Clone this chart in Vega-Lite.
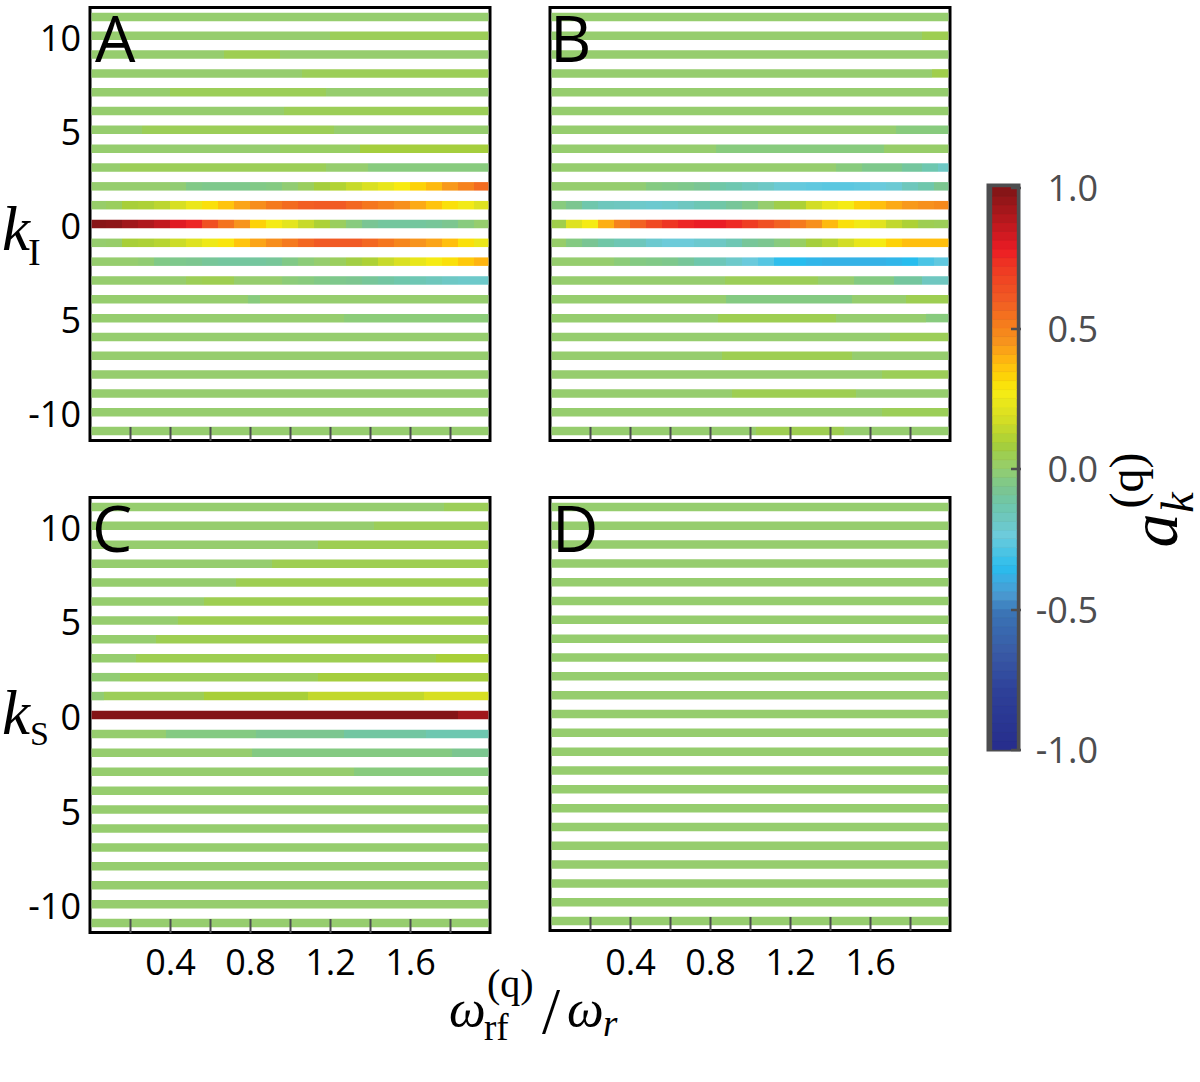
{
  "$schema": "https://vega.github.io/schema/vega-lite/v6.json",
  "padding": {"left": 0, "top": 5.5, "right": 0, "bottom": 0},
  "background": "white",
  "spacing": 31.5,
  "bounds": "full",
  "config": {
    "view": {"stroke": "#000000", "strokeWidth": 3},
    "axis": {"grid": false, "domain": false, "title": null, "labelFont": "Open Sans", "labelFontSize": 36, "labelColor": "#000000", "labelOverlap": false, "labelFlush": false, "labelBound": false},
    "text": {"font": "Liberation Serif", "color": "#000000"}
  },
  "datasets": {
    "a": [
      {"k":11,"x":0.008,"x2":1.992,"v":0},
      {"k":10,"x":0.008,"x2":1.2,"v":0},{"k":10,"x":1.2,"x2":1.992,"v":0.04},
      {"k":9,"x":0.008,"x2":0.67,"v":0},{"k":9,"x":0.67,"x2":0.95,"v":0.05},{"k":9,"x":0.95,"x2":1.992,"v":0},
      {"k":8,"x":0.008,"x2":1.06,"v":0},{"k":8,"x":1.06,"x2":1.992,"v":0.04},
      {"k":7,"x":0.008,"x2":0.4,"v":0},{"k":7,"x":0.4,"x2":1.18,"v":0.04},{"k":7,"x":1.18,"x2":1.992,"v":0},
      {"k":6,"x":0.008,"x2":0.97,"v":0},{"k":6,"x":0.97,"x2":1.992,"v":0.04},
      {"k":5,"x":0.008,"x2":0.26,"v":0},{"k":5,"x":0.26,"x2":1.22,"v":0.04},{"k":5,"x":1.22,"x2":1.992,"v":0},
      {"k":4,"x":0.008,"x2":0.95,"v":0},{"k":4,"x":0.95,"x2":1.35,"v":0.02},{"k":4,"x":1.35,"x2":1.992,"v":0.08},
      {"k":3,"x":0.008,"x2":0.15,"v":0},{"k":3,"x":0.15,"x2":1.18,"v":0.04},{"k":3,"x":1.18,"x2":1.39,"v":0},{"k":3,"x":1.39,"x2":1.992,"v":-0.03},
      {"k":2,"x":0.008,"x2":0.08,"v":0},{"k":2,"x":0.08,"x2":0.16,"v":0},{"k":2,"x":0.16,"x2":0.24,"v":0},{"k":2,"x":0.24,"x2":0.32,"v":0},{"k":2,"x":0.32,"x2":0.4,"v":0},{"k":2,"x":0.4,"x2":0.48,"v":-0.01},{"k":2,"x":0.48,"x2":0.56,"v":-0.05},{"k":2,"x":0.56,"x2":0.64,"v":-0.06},{"k":2,"x":0.64,"x2":0.72,"v":-0.06},{"k":2,"x":0.72,"x2":0.8,"v":-0.06},{"k":2,"x":0.8,"x2":0.88,"v":-0.05},{"k":2,"x":0.88,"x2":0.96,"v":-0.04},{"k":2,"x":0.96,"x2":1.04,"v":-0.01},{"k":2,"x":1.04,"x2":1.12,"v":0.03},{"k":2,"x":1.12,"x2":1.2,"v":0.08},{"k":2,"x":1.2,"x2":1.28,"v":0.11},{"k":2,"x":1.28,"x2":1.36,"v":0.15},{"k":2,"x":1.36,"x2":1.44,"v":0.19},{"k":2,"x":1.44,"x2":1.52,"v":0.23},{"k":2,"x":1.52,"x2":1.6,"v":0.28},{"k":2,"x":1.6,"x2":1.68,"v":0.33},{"k":2,"x":1.68,"x2":1.76,"v":0.38},{"k":2,"x":1.76,"x2":1.84,"v":0.44},{"k":2,"x":1.84,"x2":1.92,"v":0.5},{"k":2,"x":1.92,"x2":1.992,"v":0.56},
      {"k":1,"x":0.008,"x2":0.08,"v":0.01},{"k":1,"x":0.08,"x2":0.16,"v":0.03},{"k":1,"x":0.16,"x2":0.24,"v":0.09},{"k":1,"x":0.24,"x2":0.32,"v":0.1},{"k":1,"x":0.32,"x2":0.4,"v":0.13},{"k":1,"x":0.4,"x2":0.48,"v":0.18},{"k":1,"x":0.48,"x2":0.56,"v":0.24},{"k":1,"x":0.56,"x2":0.64,"v":0.3},{"k":1,"x":0.64,"x2":0.72,"v":0.36},{"k":1,"x":0.72,"x2":0.8,"v":0.42},{"k":1,"x":0.8,"x2":0.88,"v":0.47},{"k":1,"x":0.88,"x2":0.96,"v":0.52},{"k":1,"x":0.96,"x2":1.04,"v":0.56},{"k":1,"x":1.04,"x2":1.12,"v":0.59},{"k":1,"x":1.12,"x2":1.2,"v":0.6},{"k":1,"x":1.2,"x2":1.28,"v":0.6},{"k":1,"x":1.28,"x2":1.36,"v":0.57},{"k":1,"x":1.36,"x2":1.44,"v":0.53},{"k":1,"x":1.44,"x2":1.52,"v":0.5},{"k":1,"x":1.52,"x2":1.6,"v":0.46},{"k":1,"x":1.6,"x2":1.68,"v":0.41},{"k":1,"x":1.68,"x2":1.76,"v":0.36},{"k":1,"x":1.76,"x2":1.84,"v":0.3},{"k":1,"x":1.84,"x2":1.92,"v":0.26},{"k":1,"x":1.92,"x2":1.992,"v":0.2},
      {"k":0,"x":0.008,"x2":0.08,"v":0.98},{"k":0,"x":0.08,"x2":0.16,"v":0.97},{"k":0,"x":0.16,"x2":0.24,"v":0.93},{"k":0,"x":0.24,"x2":0.32,"v":0.9},{"k":0,"x":0.32,"x2":0.4,"v":0.86},{"k":0,"x":0.4,"x2":0.48,"v":0.8},{"k":0,"x":0.48,"x2":0.56,"v":0.76},{"k":0,"x":0.56,"x2":0.64,"v":0.64},{"k":0,"x":0.64,"x2":0.72,"v":0.54},{"k":0,"x":0.72,"x2":0.8,"v":0.45},{"k":0,"x":0.8,"x2":0.88,"v":0.33},{"k":0,"x":0.88,"x2":0.96,"v":0.27},{"k":0,"x":0.96,"x2":1.04,"v":0.22},{"k":0,"x":1.04,"x2":1.12,"v":0.15},{"k":0,"x":1.12,"x2":1.2,"v":0.1},{"k":0,"x":1.2,"x2":1.28,"v":0.03},{"k":0,"x":1.28,"x2":1.36,"v":-0.03},{"k":0,"x":1.36,"x2":1.44,"v":-0.08},{"k":0,"x":1.44,"x2":1.52,"v":-0.1},{"k":0,"x":1.52,"x2":1.6,"v":-0.1},{"k":0,"x":1.6,"x2":1.68,"v":-0.1},{"k":0,"x":1.68,"x2":1.76,"v":-0.09},{"k":0,"x":1.76,"x2":1.84,"v":-0.07},{"k":0,"x":1.84,"x2":1.92,"v":-0.03},{"k":0,"x":1.92,"x2":1.992,"v":0},
      {"k":-1,"x":0.008,"x2":0.08,"v":0},{"k":-1,"x":0.08,"x2":0.16,"v":0.01},{"k":-1,"x":0.16,"x2":0.24,"v":0.09},{"k":-1,"x":0.24,"x2":0.32,"v":0.1},{"k":-1,"x":0.32,"x2":0.4,"v":0.12},{"k":-1,"x":0.4,"x2":0.48,"v":0.16},{"k":-1,"x":0.48,"x2":0.56,"v":0.2},{"k":-1,"x":0.56,"x2":0.64,"v":0.25},{"k":-1,"x":0.64,"x2":0.72,"v":0.29},{"k":-1,"x":0.72,"x2":0.8,"v":0.36},{"k":-1,"x":0.8,"x2":0.88,"v":0.42},{"k":-1,"x":0.88,"x2":0.96,"v":0.47},{"k":-1,"x":0.96,"x2":1.04,"v":0.52},{"k":-1,"x":1.04,"x2":1.12,"v":0.57},{"k":-1,"x":1.12,"x2":1.2,"v":0.6},{"k":-1,"x":1.2,"x2":1.28,"v":0.6},{"k":-1,"x":1.28,"x2":1.36,"v":0.6},{"k":-1,"x":1.36,"x2":1.44,"v":0.57},{"k":-1,"x":1.44,"x2":1.52,"v":0.53},{"k":-1,"x":1.52,"x2":1.6,"v":0.49},{"k":-1,"x":1.6,"x2":1.68,"v":0.45},{"k":-1,"x":1.68,"x2":1.76,"v":0.42},{"k":-1,"x":1.76,"x2":1.84,"v":0.37},{"k":-1,"x":1.84,"x2":1.92,"v":0.3},{"k":-1,"x":1.92,"x2":1.992,"v":0.24},
      {"k":-2,"x":0.008,"x2":0.08,"v":0},{"k":-2,"x":0.08,"x2":0.16,"v":0},{"k":-2,"x":0.16,"x2":0.24,"v":0},{"k":-2,"x":0.24,"x2":0.32,"v":-0.01},{"k":-2,"x":0.32,"x2":0.4,"v":-0.05},{"k":-2,"x":0.4,"x2":0.48,"v":-0.06},{"k":-2,"x":0.48,"x2":0.56,"v":-0.07},{"k":-2,"x":0.56,"x2":0.64,"v":-0.09},{"k":-2,"x":0.64,"x2":0.72,"v":-0.1},{"k":-2,"x":0.72,"x2":0.8,"v":-0.1},{"k":-2,"x":0.8,"x2":0.88,"v":-0.1},{"k":-2,"x":0.88,"x2":0.96,"v":-0.09},{"k":-2,"x":0.96,"x2":1.04,"v":-0.05},{"k":-2,"x":1.04,"x2":1.12,"v":-0.02},{"k":-2,"x":1.12,"x2":1.2,"v":0},{"k":-2,"x":1.2,"x2":1.28,"v":0.03},{"k":-2,"x":1.28,"x2":1.36,"v":0.07},{"k":-2,"x":1.36,"x2":1.44,"v":0.1},{"k":-2,"x":1.44,"x2":1.52,"v":0.15},{"k":-2,"x":1.52,"x2":1.6,"v":0.19},{"k":-2,"x":1.6,"x2":1.68,"v":0.23},{"k":-2,"x":1.68,"x2":1.76,"v":0.27},{"k":-2,"x":1.76,"x2":1.84,"v":0.3},{"k":-2,"x":1.84,"x2":1.92,"v":0.35},{"k":-2,"x":1.92,"x2":1.992,"v":0.39},
      {"k":-3,"x":0.008,"x2":0.08,"v":0},{"k":-3,"x":0.08,"x2":0.16,"v":0},{"k":-3,"x":0.16,"x2":0.24,"v":0},{"k":-3,"x":0.24,"x2":0.32,"v":0},{"k":-3,"x":0.32,"x2":0.4,"v":0},{"k":-3,"x":0.4,"x2":0.48,"v":0},{"k":-3,"x":0.48,"x2":0.56,"v":0.04},{"k":-3,"x":0.56,"x2":0.64,"v":0.05},{"k":-3,"x":0.64,"x2":0.72,"v":0.05},{"k":-3,"x":0.72,"x2":0.8,"v":0},{"k":-3,"x":0.8,"x2":0.88,"v":0},{"k":-3,"x":0.88,"x2":0.96,"v":0},{"k":-3,"x":0.96,"x2":1.04,"v":-0.02},{"k":-3,"x":1.04,"x2":1.12,"v":-0.03},{"k":-3,"x":1.12,"x2":1.2,"v":-0.05},{"k":-3,"x":1.2,"x2":1.28,"v":-0.06},{"k":-3,"x":1.28,"x2":1.36,"v":-0.07},{"k":-3,"x":1.36,"x2":1.44,"v":-0.09},{"k":-3,"x":1.44,"x2":1.52,"v":-0.11},{"k":-3,"x":1.52,"x2":1.6,"v":-0.13},{"k":-3,"x":1.6,"x2":1.68,"v":-0.15},{"k":-3,"x":1.68,"x2":1.76,"v":-0.17},{"k":-3,"x":1.76,"x2":1.84,"v":-0.19},{"k":-3,"x":1.84,"x2":1.92,"v":-0.2},{"k":-3,"x":1.92,"x2":1.992,"v":-0.2},
      {"k":-4,"x":0.008,"x2":0.79,"v":0},{"k":-4,"x":0.79,"x2":0.85,"v":-0.03},{"k":-4,"x":0.85,"x2":1.992,"v":0},
      {"k":-5,"x":0.008,"x2":1.27,"v":0},{"k":-5,"x":1.27,"x2":1.992,"v":-0.02},
      {"k":-6,"x":0.008,"x2":1.992,"v":0},{"k":-7,"x":0.008,"x2":1.992,"v":0},{"k":-8,"x":0.008,"x2":1.992,"v":0},{"k":-9,"x":0.008,"x2":1.992,"v":0},{"k":-10,"x":0.008,"x2":1.992,"v":0},{"k":-11,"x":0.008,"x2":1.992,"v":0}
    ],
    "b": [
      {"k":11,"x":0.008,"x2":1.992,"v":0},
      {"k":10,"x":0.008,"x2":1.86,"v":0},{"k":10,"x":1.86,"x2":1.992,"v":0.05},
      {"k":9,"x":0.008,"x2":1.992,"v":0},
      {"k":8,"x":0.008,"x2":1.91,"v":0},{"k":8,"x":1.91,"x2":1.992,"v":0.06},
      {"k":7,"x":0.008,"x2":1.992,"v":0},
      {"k":6,"x":0.008,"x2":1.992,"v":0},
      {"k":5,"x":0.008,"x2":1.73,"v":0},{"k":5,"x":1.73,"x2":1.992,"v":-0.03},
      {"k":4,"x":0.008,"x2":0.83,"v":0},{"k":4,"x":0.83,"x2":1.67,"v":-0.03},{"k":4,"x":1.67,"x2":1.992,"v":0.01},
      {"k":3,"x":0.008,"x2":1.43,"v":0},{"k":3,"x":1.43,"x2":1.56,"v":-0.03},{"k":3,"x":1.56,"x2":1.76,"v":-0.06},{"k":3,"x":1.76,"x2":1.86,"v":-0.1},{"k":3,"x":1.86,"x2":1.94,"v":-0.14},{"k":3,"x":1.94,"x2":1.992,"v":-0.19},
      {"k":2,"x":0.008,"x2":0.08,"v":0},{"k":2,"x":0.08,"x2":0.16,"v":0},{"k":2,"x":0.16,"x2":0.24,"v":0},{"k":2,"x":0.24,"x2":0.32,"v":0},{"k":2,"x":0.32,"x2":0.4,"v":0},{"k":2,"x":0.4,"x2":0.48,"v":-0.01},{"k":2,"x":0.48,"x2":0.56,"v":-0.04},{"k":2,"x":0.56,"x2":0.64,"v":-0.05},{"k":2,"x":0.64,"x2":0.72,"v":-0.06},{"k":2,"x":0.72,"x2":0.8,"v":-0.08},{"k":2,"x":0.8,"x2":0.88,"v":-0.12},{"k":2,"x":0.88,"x2":0.96,"v":-0.14},{"k":2,"x":0.96,"x2":1.04,"v":-0.17},{"k":2,"x":1.04,"x2":1.12,"v":-0.19},{"k":2,"x":1.12,"x2":1.2,"v":-0.22},{"k":2,"x":1.2,"x2":1.28,"v":-0.25},{"k":2,"x":1.28,"x2":1.36,"v":-0.26},{"k":2,"x":1.36,"x2":1.44,"v":-0.27},{"k":2,"x":1.44,"x2":1.52,"v":-0.27},{"k":2,"x":1.52,"x2":1.6,"v":-0.26},{"k":2,"x":1.6,"x2":1.68,"v":-0.24},{"k":2,"x":1.68,"x2":1.76,"v":-0.22},{"k":2,"x":1.76,"x2":1.84,"v":-0.17},{"k":2,"x":1.84,"x2":1.92,"v":-0.13},{"k":2,"x":1.92,"x2":1.992,"v":-0.07},
      {"k":1,"x":0.008,"x2":0.08,"v":-0.03},{"k":1,"x":0.08,"x2":0.16,"v":-0.07},{"k":1,"x":0.16,"x2":0.24,"v":-0.13},{"k":1,"x":0.24,"x2":0.32,"v":-0.17},{"k":1,"x":0.32,"x2":0.4,"v":-0.18},{"k":1,"x":0.4,"x2":0.48,"v":-0.2},{"k":1,"x":0.48,"x2":0.56,"v":-0.21},{"k":1,"x":0.56,"x2":0.64,"v":-0.2},{"k":1,"x":0.64,"x2":0.72,"v":-0.18},{"k":1,"x":0.72,"x2":0.8,"v":-0.15},{"k":1,"x":0.8,"x2":0.88,"v":-0.12},{"k":1,"x":0.88,"x2":0.96,"v":-0.09},{"k":1,"x":0.96,"x2":1.04,"v":-0.05},{"k":1,"x":1.04,"x2":1.12,"v":0},{"k":1,"x":1.12,"x2":1.2,"v":0.06},{"k":1,"x":1.2,"x2":1.28,"v":0.1},{"k":1,"x":1.28,"x2":1.36,"v":0.17},{"k":1,"x":1.36,"x2":1.44,"v":0.23},{"k":1,"x":1.44,"x2":1.52,"v":0.27},{"k":1,"x":1.52,"x2":1.6,"v":0.33},{"k":1,"x":1.6,"x2":1.68,"v":0.37},{"k":1,"x":1.68,"x2":1.76,"v":0.41},{"k":1,"x":1.76,"x2":1.84,"v":0.44},{"k":1,"x":1.84,"x2":1.92,"v":0.46},{"k":1,"x":1.92,"x2":1.992,"v":0.48},
      {"k":0,"x":0.008,"x2":0.08,"v":0.06},{"k":0,"x":0.08,"x2":0.16,"v":0.2},{"k":0,"x":0.16,"x2":0.24,"v":0.27},{"k":0,"x":0.24,"x2":0.32,"v":0.4},{"k":0,"x":0.32,"x2":0.4,"v":0.5},{"k":0,"x":0.4,"x2":0.48,"v":0.58},{"k":0,"x":0.48,"x2":0.56,"v":0.66},{"k":0,"x":0.56,"x2":0.64,"v":0.72},{"k":0,"x":0.64,"x2":0.72,"v":0.76},{"k":0,"x":0.72,"x2":0.8,"v":0.78},{"k":0,"x":0.8,"x2":0.88,"v":0.78},{"k":0,"x":0.88,"x2":0.96,"v":0.75},{"k":0,"x":0.96,"x2":1.04,"v":0.7},{"k":0,"x":1.04,"x2":1.12,"v":0.64},{"k":0,"x":1.12,"x2":1.2,"v":0.58},{"k":0,"x":1.2,"x2":1.28,"v":0.52},{"k":0,"x":1.28,"x2":1.36,"v":0.46},{"k":0,"x":1.36,"x2":1.44,"v":0.38},{"k":0,"x":1.44,"x2":1.52,"v":0.3},{"k":0,"x":1.52,"x2":1.6,"v":0.26},{"k":0,"x":1.6,"x2":1.68,"v":0.21},{"k":0,"x":1.68,"x2":1.76,"v":0.14},{"k":0,"x":1.76,"x2":1.84,"v":0.1},{"k":0,"x":1.84,"x2":1.92,"v":0.05},{"k":0,"x":1.92,"x2":1.992,"v":0.04},
      {"k":-1,"x":0.008,"x2":0.08,"v":0.01},{"k":-1,"x":0.08,"x2":0.16,"v":-0.04},{"k":-1,"x":0.16,"x2":0.24,"v":-0.08},{"k":-1,"x":0.24,"x2":0.32,"v":-0.12},{"k":-1,"x":0.32,"x2":0.4,"v":-0.15},{"k":-1,"x":0.4,"x2":0.48,"v":-0.17},{"k":-1,"x":0.48,"x2":0.56,"v":-0.21},{"k":-1,"x":0.56,"x2":0.64,"v":-0.23},{"k":-1,"x":0.64,"x2":0.72,"v":-0.23},{"k":-1,"x":0.72,"x2":0.8,"v":-0.21},{"k":-1,"x":0.8,"x2":0.88,"v":-0.19},{"k":-1,"x":0.88,"x2":0.96,"v":-0.15},{"k":-1,"x":0.96,"x2":1.04,"v":-0.09},{"k":-1,"x":1.04,"x2":1.12,"v":-0.07},{"k":-1,"x":1.12,"x2":1.2,"v":-0.03},{"k":-1,"x":1.2,"x2":1.28,"v":0.02},{"k":-1,"x":1.28,"x2":1.36,"v":0.08},{"k":-1,"x":1.36,"x2":1.44,"v":0.12},{"k":-1,"x":1.44,"x2":1.52,"v":0.17},{"k":-1,"x":1.52,"x2":1.6,"v":0.23},{"k":-1,"x":1.6,"x2":1.68,"v":0.27},{"k":-1,"x":1.68,"x2":1.76,"v":0.33},{"k":-1,"x":1.76,"x2":1.84,"v":0.37},{"k":-1,"x":1.84,"x2":1.92,"v":0.37},{"k":-1,"x":1.92,"x2":1.992,"v":0.37},
      {"k":-2,"x":0.008,"x2":0.08,"v":0},{"k":-2,"x":0.08,"x2":0.16,"v":0},{"k":-2,"x":0.16,"x2":0.24,"v":0},{"k":-2,"x":0.24,"x2":0.32,"v":0},{"k":-2,"x":0.32,"x2":0.4,"v":-0.02},{"k":-2,"x":0.4,"x2":0.48,"v":-0.04},{"k":-2,"x":0.48,"x2":0.56,"v":-0.05},{"k":-2,"x":0.56,"x2":0.64,"v":-0.06},{"k":-2,"x":0.64,"x2":0.72,"v":-0.09},{"k":-2,"x":0.72,"x2":0.8,"v":-0.13},{"k":-2,"x":0.8,"x2":0.88,"v":-0.16},{"k":-2,"x":0.88,"x2":0.96,"v":-0.2},{"k":-2,"x":0.96,"x2":1.04,"v":-0.24},{"k":-2,"x":1.04,"x2":1.12,"v":-0.28},{"k":-2,"x":1.12,"x2":1.2,"v":-0.34},{"k":-2,"x":1.2,"x2":1.28,"v":-0.35},{"k":-2,"x":1.28,"x2":1.36,"v":-0.37},{"k":-2,"x":1.36,"x2":1.44,"v":-0.38},{"k":-2,"x":1.44,"x2":1.52,"v":-0.38},{"k":-2,"x":1.52,"x2":1.6,"v":-0.38},{"k":-2,"x":1.6,"x2":1.68,"v":-0.38},{"k":-2,"x":1.68,"x2":1.76,"v":-0.37},{"k":-2,"x":1.76,"x2":1.84,"v":-0.35},{"k":-2,"x":1.84,"x2":1.92,"v":-0.3},{"k":-2,"x":1.92,"x2":1.992,"v":-0.26},
      {"k":-3,"x":0.008,"x2":0.875,"v":0},{"k":-3,"x":0.875,"x2":1.34,"v":0.04},{"k":-3,"x":1.34,"x2":1.52,"v":0},{"k":-3,"x":1.52,"x2":1.72,"v":-0.04},{"k":-3,"x":1.72,"x2":1.86,"v":-0.1},{"k":-3,"x":1.86,"x2":1.992,"v":-0.18},
      {"k":-4,"x":0.008,"x2":0.88,"v":0},{"k":-4,"x":0.88,"x2":1.51,"v":-0.04},{"k":-4,"x":1.51,"x2":1.78,"v":0},{"k":-4,"x":1.78,"x2":1.992,"v":0.05},
      {"k":-5,"x":0.008,"x2":0.84,"v":0},{"k":-5,"x":0.84,"x2":1.43,"v":0.05},{"k":-5,"x":1.43,"x2":1.88,"v":0},{"k":-5,"x":1.88,"x2":1.992,"v":-0.03},
      {"k":-6,"x":0.008,"x2":1.7,"v":0},{"k":-6,"x":1.7,"x2":1.992,"v":0.04},
      {"k":-7,"x":0.008,"x2":0.86,"v":0},{"k":-7,"x":0.86,"x2":1.51,"v":0.05},{"k":-7,"x":1.51,"x2":1.992,"v":0},
      {"k":-8,"x":0.008,"x2":1.66,"v":0},{"k":-8,"x":1.66,"x2":1.992,"v":0.04},
      {"k":-9,"x":0.008,"x2":0.91,"v":0},{"k":-9,"x":0.91,"x2":1.53,"v":0.05},{"k":-9,"x":1.53,"x2":1.992,"v":0},
      {"k":-10,"x":0.008,"x2":1.66,"v":0},{"k":-10,"x":1.66,"x2":1.992,"v":0.04},
      {"k":-11,"x":0.008,"x2":1.03,"v":0},{"k":-11,"x":1.03,"x2":1.47,"v":0.05},{"k":-11,"x":1.47,"x2":1.992,"v":0}
    ],
    "c": [
      {"k":11,"x":0.008,"x2":1.77,"v":0},{"k":11,"x":1.77,"x2":1.992,"v":0.04},
      {"k":10,"x":0.008,"x2":1.42,"v":0},{"k":10,"x":1.42,"x2":1.992,"v":0.04},
      {"k":9,"x":0.008,"x2":1.14,"v":0},{"k":9,"x":1.14,"x2":1.992,"v":0.05},
      {"k":8,"x":0.008,"x2":0.91,"v":0},{"k":8,"x":0.91,"x2":1.992,"v":0.05},
      {"k":7,"x":0.008,"x2":0.73,"v":0},{"k":7,"x":0.73,"x2":1.992,"v":0.05},
      {"k":6,"x":0.008,"x2":0.57,"v":0},{"k":6,"x":0.57,"x2":1.992,"v":0.05},
      {"k":5,"x":0.008,"x2":0.44,"v":0},{"k":5,"x":0.44,"x2":1.992,"v":0.05},
      {"k":4,"x":0.008,"x2":0.33,"v":0},{"k":4,"x":0.33,"x2":1.992,"v":0.05},
      {"k":3,"x":0.008,"x2":0.23,"v":0},{"k":3,"x":0.23,"x2":1.73,"v":0.05},{"k":3,"x":1.73,"x2":1.992,"v":0.09},
      {"k":2,"x":0.008,"x2":0.15,"v":-0.01},{"k":2,"x":0.15,"x2":1.14,"v":0.04},{"k":2,"x":1.14,"x2":1.992,"v":0.08},
      {"k":1,"x":0.008,"x2":0.07,"v":-0.01},{"k":1,"x":0.07,"x2":0.57,"v":0.04},{"k":1,"x":0.57,"x2":1.09,"v":0.09},{"k":1,"x":1.09,"x2":1.67,"v":0.14},{"k":1,"x":1.67,"x2":1.992,"v":0.18},
      {"k":0,"x":0.008,"x2":1.84,"v":0.99},{"k":0,"x":1.84,"x2":1.992,"v":0.93},
      {"k":-1,"x":0.008,"x2":0.38,"v":0},{"k":-1,"x":0.38,"x2":0.83,"v":-0.04},{"k":-1,"x":0.83,"x2":1.27,"v":-0.07},{"k":-1,"x":1.27,"x2":1.68,"v":-0.11},{"k":-1,"x":1.68,"x2":1.992,"v":-0.14},
      {"k":-2,"x":0.008,"x2":0.81,"v":0},{"k":-2,"x":0.81,"x2":1.81,"v":-0.04},{"k":-2,"x":1.81,"x2":1.992,"v":-0.07},
      {"k":-3,"x":0.008,"x2":1.32,"v":0},{"k":-3,"x":1.32,"x2":1.992,"v":-0.03},
      {"k":-4,"x":0.008,"x2":1.992,"v":0},{"k":-5,"x":0.008,"x2":1.992,"v":0},{"k":-6,"x":0.008,"x2":1.992,"v":0},{"k":-7,"x":0.008,"x2":1.992,"v":0},{"k":-8,"x":0.008,"x2":1.992,"v":0},{"k":-9,"x":0.008,"x2":1.992,"v":0},{"k":-10,"x":0.008,"x2":1.992,"v":0},{"k":-11,"x":0.008,"x2":1.992,"v":0}
    ],
    "d": [
      {"k":11,"x":0.008,"x2":1.992,"v":0},{"k":10,"x":0.008,"x2":1.992,"v":0},{"k":9,"x":0.008,"x2":1.992,"v":0},{"k":8,"x":0.008,"x2":1.992,"v":0},{"k":7,"x":0.008,"x2":1.992,"v":0},{"k":6,"x":0.008,"x2":1.992,"v":0},{"k":5,"x":0.008,"x2":1.992,"v":0},{"k":4,"x":0.008,"x2":1.992,"v":0},{"k":3,"x":0.008,"x2":1.992,"v":0},{"k":2,"x":0.008,"x2":1.992,"v":0},{"k":1,"x":0.008,"x2":1.992,"v":0},{"k":0,"x":0.008,"x2":1.992,"v":0},{"k":-1,"x":0.008,"x2":1.992,"v":0},{"k":-2,"x":0.008,"x2":1.992,"v":0},{"k":-3,"x":0.008,"x2":1.992,"v":0},{"k":-4,"x":0.008,"x2":1.992,"v":0},{"k":-5,"x":0.008,"x2":1.992,"v":0},{"k":-6,"x":0.008,"x2":1.992,"v":0},{"k":-7,"x":0.008,"x2":1.992,"v":0},{"k":-8,"x":0.008,"x2":1.992,"v":0},{"k":-9,"x":0.008,"x2":1.992,"v":0},{"k":-10,"x":0.008,"x2":1.992,"v":0},{"k":-11,"x":0.008,"x2":1.992,"v":0}
    ],
    "bar": [
      {"lo":-1,"hi":-0.969,"v":-0.984},{"lo":-0.969,"hi":-0.938,"v":-0.953},{"lo":-0.938,"hi":-0.906,"v":-0.922},{"lo":-0.906,"hi":-0.875,"v":-0.891},{"lo":-0.875,"hi":-0.844,"v":-0.859},{"lo":-0.844,"hi":-0.813,"v":-0.828},{"lo":-0.813,"hi":-0.781,"v":-0.797},{"lo":-0.781,"hi":-0.75,"v":-0.766},{"lo":-0.75,"hi":-0.719,"v":-0.734},{"lo":-0.719,"hi":-0.688,"v":-0.703},{"lo":-0.688,"hi":-0.656,"v":-0.672},{"lo":-0.656,"hi":-0.625,"v":-0.641},{"lo":-0.625,"hi":-0.594,"v":-0.609},{"lo":-0.594,"hi":-0.563,"v":-0.578},{"lo":-0.563,"hi":-0.531,"v":-0.547},{"lo":-0.531,"hi":-0.5,"v":-0.516},
      {"lo":-0.5,"hi":-0.469,"v":-0.484},{"lo":-0.469,"hi":-0.438,"v":-0.453},{"lo":-0.438,"hi":-0.406,"v":-0.422},{"lo":-0.406,"hi":-0.375,"v":-0.391},{"lo":-0.375,"hi":-0.344,"v":-0.359},{"lo":-0.344,"hi":-0.313,"v":-0.328},{"lo":-0.313,"hi":-0.281,"v":-0.297},{"lo":-0.281,"hi":-0.25,"v":-0.266},{"lo":-0.25,"hi":-0.219,"v":-0.234},{"lo":-0.219,"hi":-0.188,"v":-0.203},{"lo":-0.188,"hi":-0.156,"v":-0.172},{"lo":-0.156,"hi":-0.125,"v":-0.141},{"lo":-0.125,"hi":-0.094,"v":-0.109},{"lo":-0.094,"hi":-0.063,"v":-0.078},{"lo":-0.063,"hi":-0.031,"v":-0.047},{"lo":-0.031,"hi":0,"v":-0.016},
      {"lo":0,"hi":0.031,"v":0.016},{"lo":0.031,"hi":0.063,"v":0.047},{"lo":0.063,"hi":0.094,"v":0.078},{"lo":0.094,"hi":0.125,"v":0.109},{"lo":0.125,"hi":0.156,"v":0.141},{"lo":0.156,"hi":0.188,"v":0.172},{"lo":0.188,"hi":0.219,"v":0.203},{"lo":0.219,"hi":0.25,"v":0.234},{"lo":0.25,"hi":0.281,"v":0.266},{"lo":0.281,"hi":0.313,"v":0.297},{"lo":0.313,"hi":0.344,"v":0.328},{"lo":0.344,"hi":0.375,"v":0.359},{"lo":0.375,"hi":0.406,"v":0.391},{"lo":0.406,"hi":0.438,"v":0.422},{"lo":0.438,"hi":0.469,"v":0.453},{"lo":0.469,"hi":0.5,"v":0.484},
      {"lo":0.5,"hi":0.531,"v":0.516},{"lo":0.531,"hi":0.563,"v":0.547},{"lo":0.563,"hi":0.594,"v":0.578},{"lo":0.594,"hi":0.625,"v":0.609},{"lo":0.625,"hi":0.656,"v":0.641},{"lo":0.656,"hi":0.688,"v":0.672},{"lo":0.688,"hi":0.719,"v":0.703},{"lo":0.719,"hi":0.75,"v":0.734},{"lo":0.75,"hi":0.781,"v":0.766},{"lo":0.781,"hi":0.813,"v":0.797},{"lo":0.813,"hi":0.844,"v":0.828},{"lo":0.844,"hi":0.875,"v":0.859},{"lo":0.875,"hi":0.906,"v":0.891},{"lo":0.906,"hi":0.938,"v":0.922},{"lo":0.938,"hi":0.969,"v":0.953},{"lo":0.969,"hi":1,"v":0.984}
    ]
  },
  "hconcat": [
    {
      "columns": 2,
      "bounds": "flush",
      "spacing": {"row": 57, "column": 60},
      "concat": [
        {
          "width": 400, "height": 433,
          "layer": [
            {
              "data": {"name": "a"},
              "mark": {"type": "rule", "strokeWidth": 8.5, "strokeCap": "butt"},
              "encoding": {
                "x": {"field": "x", "type": "quantitative", "scale": {"domain": [0, 2], "nice": false, "zero": false},
                  "axis": {"zindex": 1, "values": [0.2,0.4,0.6,0.8,1,1.2,1.4,1.6,1.8], "tickSize": -14, "tickWidth": 2, "tickColor": "#4d4d4f", "labels": false}},
                "x2": {"field": "x2"},
                "y": {"field": "k", "type": "quantitative", "scale": {"domain": [-11.5, 11.5], "nice": false, "zero": false},
                  "axis": {"values": [10,5,0,-5,-10], "ticks": false, "labelPadding": 9.5, "labelOffset": 3.5, "labelExpr": "datum.value == -5 ? '5' : datum.value == -10 ? '-10' : datum.label"}},
                "color": {"field": "v", "type": "quantitative", "legend": null,
                  "scale": {"domain": [-1,-0.8,-0.65,-0.51,-0.45,-0.35,-0.235,-0.18,-0.08,0,0.085,0.18,0.275,0.365,0.45,0.6,0.775,1],
                    "range": ["#262d8c","#2e3f98","#3a5ba6","#3b75b6","#4a99d0","#27bdee","#6dcbdb","#6fc7c0","#7ac594","#96cd6e","#a6ce39","#d7df23","#f7ec13","#ffc20e","#f7941d","#f15a24","#ed1c24","#7f1416"]}}
              }
            },
            {"data": {"values": [{"t": "A"}]}, "mark": {"type": "text", "font": "Open Sans", "fontSize": 64, "align": "left", "baseline": "alphabetic"},
              "encoding": {"text": {"field": "t"}, "x": {"datum": 0.025, "type": "quantitative"}, "y": {"datum": 8.6, "type": "quantitative"}}},
            {"data": {"values": [{"t": "k"}]}, "mark": {"type": "text", "fontSize": 63, "fontStyle": "italic", "align": "left", "baseline": "alphabetic"},
              "encoding": {"text": {"field": "t"}, "x": {"datum": -0.44, "type": "quantitative"}, "y": {"datum": -1.39, "type": "quantitative"}}},
            {"data": {"values": [{"t": "I"}]}, "mark": {"type": "text", "fontSize": 38, "align": "left", "baseline": "alphabetic"},
              "encoding": {"text": {"field": "t"}, "x": {"datum": -0.31, "type": "quantitative"}, "y": {"datum": -2.19, "type": "quantitative"}}}
          ]
        },
        {
          "width": 400, "height": 433,
          "layer": [
            {
              "data": {"name": "b"},
              "mark": {"type": "rule", "strokeWidth": 8.5, "strokeCap": "butt"},
              "encoding": {
                "x": {"field": "x", "type": "quantitative", "scale": {"domain": [0, 2], "nice": false, "zero": false},
                  "axis": {"zindex": 1, "values": [0.2,0.4,0.6,0.8,1,1.2,1.4,1.6,1.8], "tickSize": -14, "tickWidth": 2, "tickColor": "#4d4d4f", "labels": false}},
                "x2": {"field": "x2"},
                "y": {"field": "k", "type": "quantitative", "scale": {"domain": [-11.5, 11.5], "nice": false, "zero": false}, "axis": null},
                "color": {"field": "v", "type": "quantitative", "legend": null,
                  "scale": {"domain": [-1,-0.8,-0.65,-0.51,-0.45,-0.35,-0.235,-0.18,-0.08,0,0.085,0.18,0.275,0.365,0.45,0.6,0.775,1],
                    "range": ["#262d8c","#2e3f98","#3a5ba6","#3b75b6","#4a99d0","#27bdee","#6dcbdb","#6fc7c0","#7ac594","#96cd6e","#a6ce39","#d7df23","#f7ec13","#ffc20e","#f7941d","#f15a24","#ed1c24","#7f1416"]}}
              }
            },
            {"data": {"values": [{"t": "B"}]}, "mark": {"type": "text", "font": "Open Sans", "fontSize": 64, "align": "left", "baseline": "alphabetic"},
              "encoding": {"text": {"field": "t"}, "x": {"datum": 0, "type": "quantitative"}, "y": {"datum": 8.6, "type": "quantitative"}}}
          ]
        },
        {
          "width": 400, "height": 435,
          "layer": [
            {
              "data": {"name": "c"},
              "mark": {"type": "rule", "strokeWidth": 8.5, "strokeCap": "butt"},
              "encoding": {
                "x": {"field": "x", "type": "quantitative", "scale": {"domain": [0, 2], "nice": false, "zero": false},
                  "axis": {"zindex": 1, "values": [0.2,0.4,0.6,0.8,1,1.2,1.4,1.6,1.8], "tickSize": -14, "tickWidth": 2, "tickColor": "#4d4d4f", "labelPadding": 28, "format": ".1f", "labelExpr": "indexof(['0.4','0.8','1.2','1.6'], datum.label) >= 0 ? datum.label : ''"}},
                "x2": {"field": "x2"},
                "y": {"field": "k", "type": "quantitative", "scale": {"domain": [-11.5, 11.5], "nice": false, "zero": false},
                  "axis": {"values": [10,5,0,-5,-10], "ticks": false, "labelPadding": 9.5, "labelOffset": 3.5, "labelExpr": "datum.value == -5 ? '5' : datum.value == -10 ? '-10' : datum.label"}},
                "color": {"field": "v", "type": "quantitative", "legend": null,
                  "scale": {"domain": [-1,-0.8,-0.65,-0.51,-0.45,-0.35,-0.235,-0.18,-0.08,0,0.085,0.18,0.275,0.365,0.45,0.6,0.775,1],
                    "range": ["#262d8c","#2e3f98","#3a5ba6","#3b75b6","#4a99d0","#27bdee","#6dcbdb","#6fc7c0","#7ac594","#96cd6e","#a6ce39","#d7df23","#f7ec13","#ffc20e","#f7941d","#f15a24","#ed1c24","#7f1416"]}}
              }
            },
            {"data": {"values": [{"t": "C"}]}, "mark": {"type": "text", "font": "Open Sans", "fontSize": 64, "align": "left", "baseline": "alphabetic"},
              "encoding": {"text": {"field": "t"}, "x": {"datum": 0.01, "type": "quantitative"}, "y": {"datum": 8.6, "type": "quantitative"}}},
            {"data": {"values": [{"t": "k"}]}, "mark": {"type": "text", "fontSize": 63, "fontStyle": "italic", "align": "left", "baseline": "alphabetic"},
              "encoding": {"text": {"field": "t"}, "x": {"datum": -0.44, "type": "quantitative"}, "y": {"datum": -1.03, "type": "quantitative"}}},
            {"data": {"values": [{"t": "S"}]}, "mark": {"type": "text", "fontSize": 34, "align": "left", "baseline": "alphabetic"},
              "encoding": {"text": {"field": "t"}, "x": {"datum": -0.3, "type": "quantitative"}, "y": {"datum": -1.56, "type": "quantitative"}}},
            {"data": {"values": [{"t": "ω"}]}, "mark": {"type": "text", "fontSize": 52, "fontStyle": "italic", "align": "left", "baseline": "alphabetic"},
              "encoding": {"text": {"field": "t"}, "x": {"datum": 1.795, "type": "quantitative"}, "y": {"datum": -16.42, "type": "quantitative"}}},
            {"data": {"values": [{"t": "rf"}]}, "mark": {"type": "text", "fontSize": 37, "align": "left", "baseline": "alphabetic"},
              "encoding": {"text": {"field": "t"}, "x": {"datum": 1.97, "type": "quantitative"}, "y": {"datum": -17.21, "type": "quantitative"}}},
            {"data": {"values": [{"t": "(q)"}]}, "mark": {"type": "text", "fontSize": 40, "align": "left", "baseline": "alphabetic"},
              "encoding": {"text": {"field": "t"}, "x": {"datum": 1.985, "type": "quantitative"}, "y": {"datum": -14.89, "type": "quantitative"}}},
            {"data": {"values": [{"t": "/"}]}, "mark": {"type": "text", "fontSize": 65, "align": "left", "baseline": "alphabetic"},
              "encoding": {"text": {"field": "t"}, "x": {"datum": 2.26, "type": "quantitative"}, "y": {"datum": -16.84, "type": "quantitative"}}},
            {"data": {"values": [{"t": "ω"}]}, "mark": {"type": "text", "fontSize": 52, "fontStyle": "italic", "align": "left", "baseline": "alphabetic"},
              "encoding": {"text": {"field": "t"}, "x": {"datum": 2.385, "type": "quantitative"}, "y": {"datum": -16.42, "type": "quantitative"}}},
            {"data": {"values": [{"t": "r"}]}, "mark": {"type": "text", "fontSize": 37, "fontStyle": "italic", "align": "left", "baseline": "alphabetic"},
              "encoding": {"text": {"field": "t"}, "x": {"datum": 2.565, "type": "quantitative"}, "y": {"datum": -16.95, "type": "quantitative"}}}
          ]
        },
        {
          "width": 400, "height": 433,
          "layer": [
            {
              "data": {"name": "d"},
              "mark": {"type": "rule", "strokeWidth": 8.5, "strokeCap": "butt"},
              "encoding": {
                "x": {"field": "x", "type": "quantitative", "scale": {"domain": [0, 2], "nice": false, "zero": false},
                  "axis": {"zindex": 1, "values": [0.2,0.4,0.6,0.8,1,1.2,1.4,1.6,1.8], "tickSize": -14, "tickWidth": 2, "tickColor": "#4d4d4f", "labelPadding": 30, "format": ".1f", "labelExpr": "indexof(['0.4','0.8','1.2','1.6'], datum.label) >= 0 ? datum.label : ''"}},
                "x2": {"field": "x2"},
                "y": {"field": "k", "type": "quantitative", "scale": {"domain": [-11.5, 11.5], "nice": false, "zero": false}, "axis": null},
                "color": {"field": "v", "type": "quantitative", "legend": null,
                  "scale": {"domain": [-1,-0.8,-0.65,-0.51,-0.45,-0.35,-0.235,-0.18,-0.08,0,0.085,0.18,0.275,0.365,0.45,0.6,0.775,1],
                    "range": ["#262d8c","#2e3f98","#3a5ba6","#3b75b6","#4a99d0","#27bdee","#6dcbdb","#6fc7c0","#7ac594","#96cd6e","#a6ce39","#d7df23","#f7ec13","#ffc20e","#f7941d","#f15a24","#ed1c24","#7f1416"]}}
              }
            },
            {"data": {"values": [{"t": "D"}]}, "mark": {"type": "text", "font": "Open Sans", "fontSize": 64, "align": "left", "baseline": "alphabetic"},
              "encoding": {"text": {"field": "t"}, "x": {"datum": 0.01, "type": "quantitative"}, "y": {"datum": 8.6, "type": "quantitative"}}}
          ]
        }
      ]
    },
    {
      "width": 34, "height": 744,
      "view": {"stroke": null},
      "layer": [
        {
          "data": {"values": [{"part": "frame"}]},
          "mark": {"type": "rect", "color": "#4d4d4f"},
          "encoding": {
            "x": {"datum": 0, "type": "quantitative", "scale": {"domain": [0, 34], "nice": false, "zero": false}, "axis": null},
            "x2": {"datum": 34},
            "y": {"datum": -1.007, "type": "quantitative", "scale": {"domain": [-1.007, 1.6406], "nice": false, "zero": false},
              "axis": {"zindex": 1, "orient": "right", "values": [1,0.5,0,-0.5,-1], "format": ".1f", "tickSize": -10, "tickWidth": 2.5, "tickColor": "#4d4d4f", "labelColor": "#4d4d4f", "labelPadding": 87, "labelAlign": "right", "labelOffset": 2, "labelExpr": "datum.value == -0.5 ? '-0.5' : datum.value == -1 ? '-1.0' : datum.label"}},
            "y2": {"datum": 1.014}
          }
        },
        {
          "data": {"name": "bar"},
          "mark": {"type": "rect", "strokeWidth": 0.6},
          "encoding": {
            "x": {"datum": 6, "type": "quantitative"},
            "x2": {"datum": 30},
            "y": {"field": "lo", "type": "quantitative"},
            "y2": {"field": "hi"},
            "color": {"field": "v", "type": "quantitative", "legend": null,
              "scale": {"domain": [-1,-0.8,-0.65,-0.51,-0.45,-0.35,-0.235,-0.18,-0.08,0,0.085,0.18,0.275,0.365,0.45,0.6,0.775,1],
                "range": ["#262d8c","#2e3f98","#3a5ba6","#3b75b6","#4a99d0","#27bdee","#6dcbdb","#6fc7c0","#7ac594","#96cd6e","#a6ce39","#d7df23","#f7ec13","#ffc20e","#f7941d","#f15a24","#ed1c24","#7f1416"]}},
            "stroke": {"field": "v", "type": "quantitative", "legend": null,
              "scale": {"domain": [-1,-0.8,-0.65,-0.51,-0.45,-0.35,-0.235,-0.18,-0.08,0,0.085,0.18,0.275,0.365,0.45,0.6,0.775,1],
                "range": ["#262d8c","#2e3f98","#3a5ba6","#3b75b6","#4a99d0","#27bdee","#6dcbdb","#6fc7c0","#7ac594","#96cd6e","#a6ce39","#d7df23","#f7ec13","#ffc20e","#f7941d","#f15a24","#ed1c24","#7f1416"]}}
          }
        },
        {"data": {"values": [{"t": "a"}]}, "mark": {"type": "text", "fontSize": 68, "fontStyle": "italic", "angle": 270, "align": "left", "baseline": "alphabetic"},
          "encoding": {"text": {"field": "t"}, "x": {"datum": 190, "type": "quantitative"}, "y": {"datum": -0.281, "type": "quantitative"}}},
        {"data": {"values": [{"t": "k"}]}, "mark": {"type": "text", "fontSize": 46, "fontStyle": "italic", "angle": 270, "align": "left", "baseline": "alphabetic"},
          "encoding": {"text": {"field": "t"}, "x": {"datum": 206, "type": "quantitative"}, "y": {"datum": -0.157, "type": "quantitative"}}},
        {"data": {"values": [{"t": "(q)"}]}, "mark": {"type": "text", "fontSize": 48, "angle": 270, "align": "left", "baseline": "alphabetic"},
          "encoding": {"text": {"field": "t"}, "x": {"datum": 156, "type": "quantitative"}, "y": {"datum": -0.142, "type": "quantitative"}}}
      ]
    }
  ]
}
